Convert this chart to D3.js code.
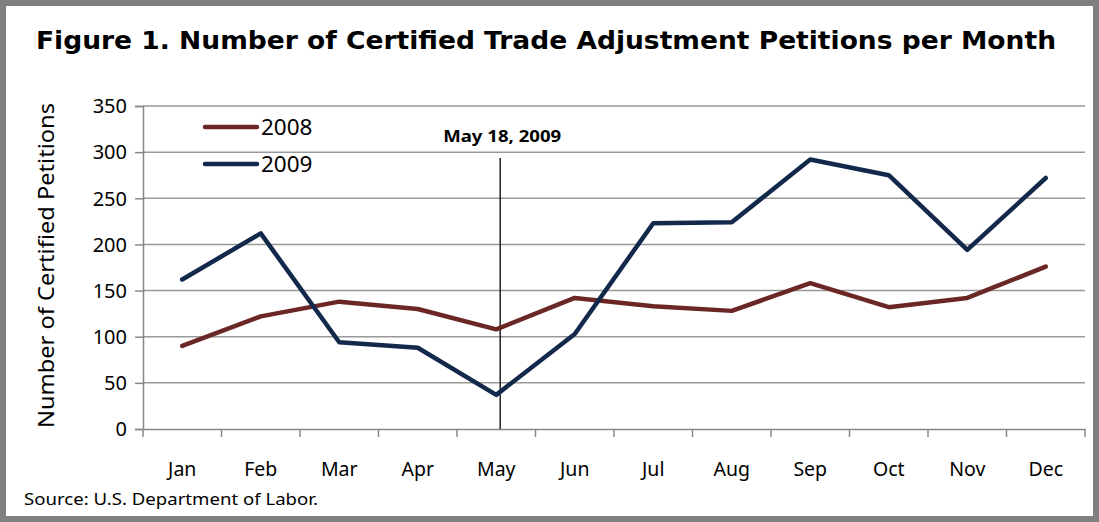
<!DOCTYPE html>
<html>
<head>
<meta charset="utf-8">
<script src="https://cdn.jsdelivr.net/npm/d3@7"></script>
<style>
  body { margin: 0; background: #fff; }
  svg text { font-family: "Noto Sans", "Open Sans", sans-serif; fill: #000; }
</style>
</head>
<body>
<svg id="chart" width="1099" height="522"></svg>
<script>
const months   = ["Jan","Feb","Mar","Apr","May","Jun","Jul","Aug","Sep","Oct","Nov","Dec"];
const vals2008 = [90, 122, 138, 130, 108, 142, 133, 128, 158, 132, 142, 176];
const vals2009 = [162, 212, 94, 88, 37, 103, 223, 224, 292, 275, 194, 272];
const yTicks   = [0, 50, 100, 150, 200, 250, 300, 350];
const series   = [
  {name: "2008", values: vals2008, color: "#6b2726"},
  {name: "2009", values: vals2009, color: "#13294b"}
];
const marker = {month: "May", offset: 0.55, label: "May 18, 2009"}; // mid-May

const main = function() {
  const svg = d3.select("#chart");
  const left = 143, right = 1085, top = 106, bottom = 429;

  // frame
  svg.append("rect")
    .attr("x", 3).attr("y", 3).attr("width", 1093).attr("height", 516)
    .attr("fill", "#fff").attr("stroke", "#808080").attr("stroke-width", 6);

  svg.append("text")
    .attr("x", 546).attr("y", 49)
    .attr("text-anchor", "middle")
    .attr("textLength", 1020).attr("lengthAdjust", "spacingAndGlyphs")
    .style("font-family", "'DejaVu Sans', Verdana, sans-serif")
    .style("font-weight", "bold").style("font-size", "25px")
    .text("Figure 1. Number of Certified Trade Adjustment Petitions per Month");

  const x = d3.scaleBand().domain(months).range([left, right]);
  const y = d3.scaleLinear().domain([0, 350]).range([bottom, top]);

  // gridlines
  svg.append("g")
    .selectAll("line")
    .data(yTicks.filter(t => t > 0))
    .join("line")
      .attr("x1", left).attr("x2", right)
      .attr("y1", d => y(d)).attr("y2", d => y(d))
      .attr("stroke", "#999").attr("stroke-width", 1.5);

  // y axis
  const yAxis = svg.append("g")
    .attr("transform", `translate(${left},0)`)
    .call(d3.axisLeft(y).tickValues(yTicks).tickSize(8).tickPadding(8));
  yAxis.select(".domain").attr("stroke", "#888").attr("stroke-width", 1.5);
  yAxis.selectAll(".tick line").attr("stroke", "#888").attr("stroke-width", 1.5);
  yAxis.selectAll("text").style("font-size", "20px").attr("dy", "0.34em");

  // x axis: ticks at band edges
  const xAxis = svg.append("g")
    .attr("transform", `translate(0,${bottom})`)
    .call(d3.axisBottom(x).tickSize(0).tickPadding(33));
  xAxis.select(".domain").attr("stroke", "#888").attr("stroke-width", 1.5);
  xAxis.selectAll("text").style("font-size", "19.5px");
  svg.append("g")
    .selectAll("line")
    .data(months.concat(["end"]))
    .join("line")
      .attr("x1", (d, i) => left + i * x.step())
      .attr("x2", (d, i) => left + i * x.step())
      .attr("y1", bottom).attr("y2", bottom + 8)
      .attr("stroke", "#888").attr("stroke-width", 1.5);

  // y title
  svg.append("text")
    .attr("transform", `translate(54,${(top + bottom) / 2 - 2}) rotate(-90)`)
    .attr("text-anchor", "middle")
    .attr("textLength", 325).attr("lengthAdjust", "spacingAndGlyphs")
    .style("font-size", "22px")
    .text("Number of Certified Petitions");

  // marker line
  const mx = x(marker.month) + x.bandwidth() * marker.offset;
  svg.append("line")
    .attr("x1", mx).attr("x2", mx)
    .attr("y1", 158).attr("y2", bottom)
    .attr("stroke", "#000").attr("stroke-width", 1.3);
  svg.append("text")
    .attr("x", mx + 2).attr("y", 142)
    .attr("text-anchor", "middle")
    .attr("textLength", 118).attr("lengthAdjust", "spacingAndGlyphs")
    .style("font-weight", "bold").style("font-size", "16.5px")
    .text(marker.label);

  // lines
  const line = d3.line()
    .x((d, i) => x(months[i]) + x.bandwidth() / 2)
    .y(d => y(d));
  svg.append("g")
    .selectAll("path")
    .data(series)
    .join("path")
      .attr("d", d => line(d.values))
      .attr("fill", "none")
      .attr("stroke", d => d.color)
      .attr("stroke-width", 4.5)
      .attr("stroke-linejoin", "round")
      .attr("stroke-linecap", "round");

  // legend
  const legend = svg.append("g")
    .selectAll("g")
    .data(series)
    .join("g")
      .attr("transform", (d, i) => `translate(205,${127 + i * 37})`);
  legend.append("line")
    .attr("x1", 0).attr("x2", 52)
    .attr("stroke", d => d.color).attr("stroke-width", 4.5)
    .attr("stroke-linecap", "round");
  legend.append("text")
    .attr("x", 56).attr("dy", "0.36em")
    .style("font-size", "22.5px")
    .text(d => d.name);

  // source
  svg.append("text")
    .attr("x", 24).attr("y", 505)
    .attr("textLength", 294).attr("lengthAdjust", "spacingAndGlyphs")
    .style("font-size", "17px")
    .text("Source: U.S. Department of Labor.");
}();
</script>
</body>
</html>
